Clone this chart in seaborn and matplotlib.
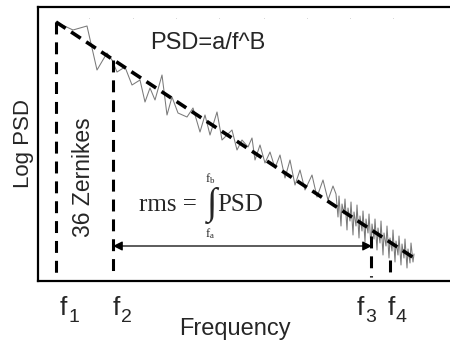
import matplotlib
matplotlib.use('Agg')
import matplotlib.pyplot as plt
import seaborn as sns
import pandas as pd

# Everything is laid out in picture units: x = log frequency, y = log PSD (inverted)
psd_x = [56, 73, 87, 97, 107, 112, 117, 125, 132, 140, 145, 150, 155, 162, 167,
         172, 178, 187, 193, 200, 205, 210, 217, 222, 227, 232, 237, 242, 248,
         252, 255, 260, 265, 270, 275, 280, 285, 290, 295, 300, 305, 312, 317,
         323, 328, 333, 336, 338, 339, 341, 342, 344, 345, 347, 348, 350, 351,
         353, 354, 356, 357, 359, 360, 362, 363, 365, 366, 368, 369, 371, 372,
         374, 375, 377, 378, 380, 381, 383, 384, 386, 387, 389, 390, 392, 393,
         395, 396, 398, 399, 401, 402, 404, 405, 407, 408, 410, 411, 413, 414]
psd_y = [22, 30, 26, 70, 53, 60, 72, 67, 85, 80, 102, 88, 100, 75, 115,
         97, 113, 117, 108, 132, 115, 135, 112, 140, 135, 130, 150, 140, 147,
         138, 160, 145, 163, 152, 168, 155, 178, 160, 185, 170, 190, 175, 197,
         180, 200, 186, 194, 217, 196, 226, 204, 214, 199, 230, 208, 221, 202,
         235, 212, 226, 205, 238, 216, 231, 211, 242, 219, 233, 214, 247, 224,
         239, 219, 250, 228, 243, 221, 255, 233, 246, 226, 258, 238, 251, 230,
         262, 241, 255, 236, 265, 244, 258, 239, 268, 249, 263, 243, 262, 254]

fit_x = [56, 414]
fit_y = [22, 258]

cut_x = [56, 113, 371, 390]
cut_top = [22, 60, 236, 260]
cut_bottom = [277, 277, 277, 278]
cut_names = ['1', '2', '3', '4']
label_x = [60, 113, 357, 388]

grid_dot_x = [89, 133, 176, 219, 264, 307, 350, 393]

sns.set_theme(style='white')
plt.rcParams['font.family'] = ['Liberation Sans', 'DejaVu Sans']

fig = plt.figure(figsize=(4.5, 3.51), dpi=100)
ax = fig.add_axes([38 / 450, (351 - 281) / 351, 412 / 450, 274 / 351])

psd = pd.DataFrame({'f': psd_x, 'p': psd_y})
sns.lineplot(data=psd, x='f', y='p', sort=False, color='#7a7a7a', lw=0.75, ax=ax)

fit = pd.DataFrame({'f': fit_x, 'p': fit_y})
sns.lineplot(data=fit, x='f', y='p', color='black', lw=2.6,
             linestyle=(0, (3.2, 1.8)), ax=ax)

for x, y0, y1 in zip(cut_x, cut_top, cut_bottom):
    ax.plot([x, x], [y0, y1], color='black', lw=2.2, linestyle=(0, (3.9, 2.6)))

ax.scatter(grid_dot_x, [18] * len(grid_dot_x), s=0.3, color='#c8c8c8', linewidths=0)

# integration range arrow
ax.annotate('', xy=(113, 246), xytext=(372, 246),
            arrowprops=dict(arrowstyle='<|-|>', color='black', lw=0.9,
                            mutation_scale=14, shrinkA=0, shrinkB=0))

ax.set_xlim(38, 450)
ax.set_ylim(281, 7)
ax.set_xticks([])
ax.set_yticks([])
for side in ['left', 'top', 'bottom']:
    ax.spines[side].set_color('black')
    ax.spines[side].set_linewidth(1.6)
ax.spines['right'].set_visible(False)
ax.set_xlabel('')
ax.set_ylabel('')

ax.text(208, 43, 'PSD=a/f^B', fontsize=17, ha='center', va='center')
ax.text(84, 177, '36 Zernikes', fontsize=16.5, rotation=90, ha='center', va='center')

serif = ['Liberation Serif', 'DejaVu Serif']
ax.text(168, 205, 'rms =', fontsize=18, family=serif, ha='center', va='center')
ax.text(212, 205, '\u222b', fontsize=27, family=serif, ha='center', va='center')
ax.text(210, 179, '$\\mathregular{f_b}$', fontsize=9, family=serif, ha='center', va='center')
ax.text(210, 234, '$\\mathregular{f_a}$', fontsize=9, family=serif, ha='center', va='center')
ax.text(217, 205, 'PSD', fontsize=18, family=serif, ha='left', va='center')

for lx, name in zip(label_x, cut_names):
    ax.text(lx, 315, 'f', fontsize=19, ha='left', va='baseline', clip_on=False)
    ax.text(lx + 8, 322, name, fontsize=14, ha='left', va='baseline', clip_on=False)

fig.text(235 / 450, 1 - 329 / 351, 'Frequency', fontsize=17, ha='center', va='center')
fig.text(24 / 450, 1 - 144 / 351, 'Log PSD', fontsize=16, rotation=90, ha='center', va='center')

fig.savefig('out.png', dpi=100)
